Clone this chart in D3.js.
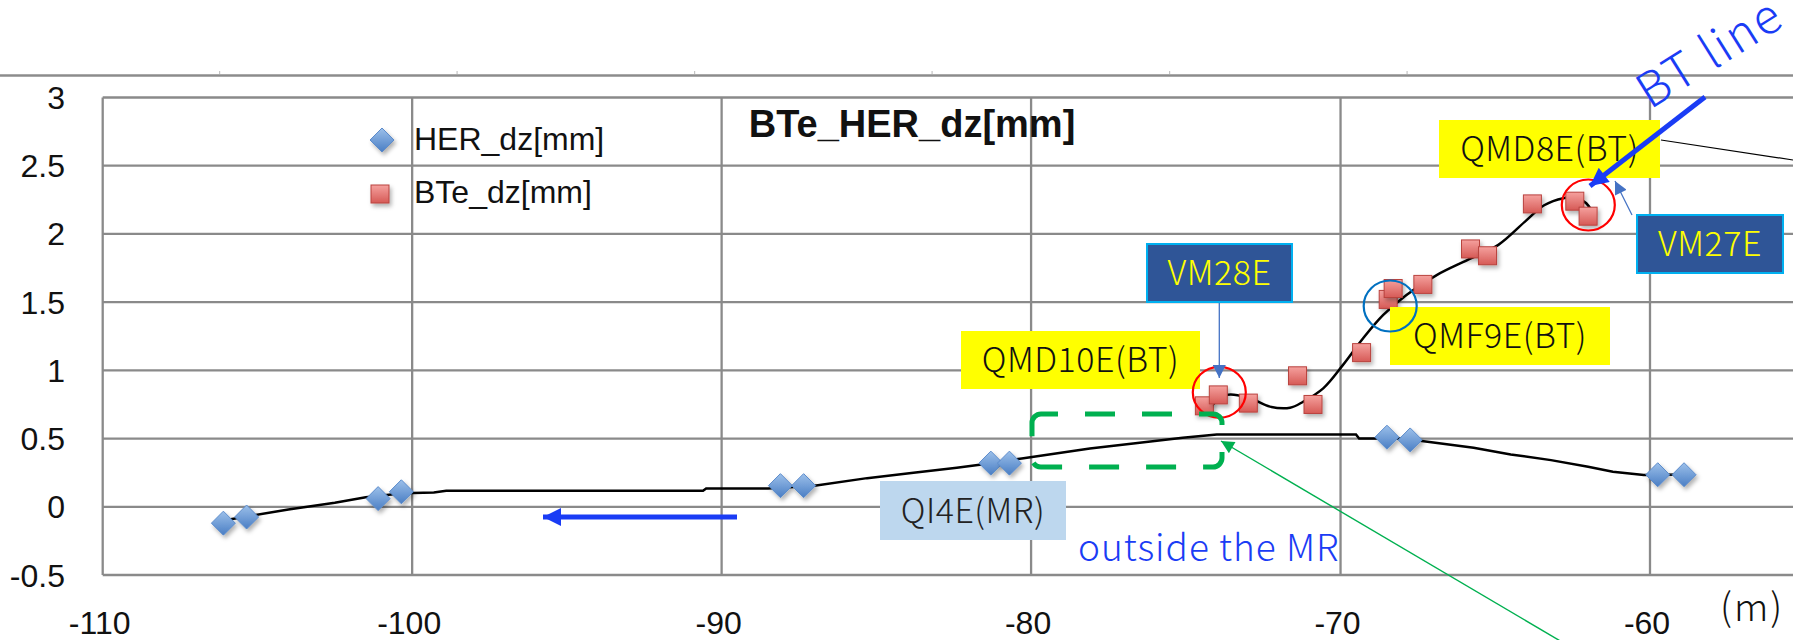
<!DOCTYPE html>
<html>
<head>
<meta charset="utf-8">
<script src="https://cdn.jsdelivr.net/npm/d3@7"></script>
<style>
  body { margin: 0; background: #fff; }
  svg { display: block; }
  .axisLbl { font-family: "Liberation Sans", Arial, sans-serif; font-size: 32px; fill: #111; }
  .note { font-family: "Noto Sans CJK JP", "Noto Sans", sans-serif; font-weight: 300; }
</style>
</head>
<body>
<script>
//chart values
var herX = [-106.1, -105.35, -101.1, -100.35, -88.1, -87.35, -81.3, -80.7, -68.5, -67.75, -59.75, -58.9];
var herY = [-0.12, -0.075, 0.06, 0.11, 0.155, 0.155, 0.32, 0.32, 0.51, 0.49, 0.235, 0.235];

var bteX = [-74.4, -73.95, -72.98, -71.39, -70.89, -69.32, -68.46, -68.3, -67.34, -65.8, -65.25, -63.8, -62.43, -62.0];
var bteY = [0.74, 0.82, 0.76, 0.96, 0.75, 1.13, 1.52, 1.60, 1.63, 1.89, 1.84, 2.22, 2.24, 2.13];

//stepped fit line through the HER points
var herLineX = [-106.1, -105.3, -104, -102.5, -101.5, -100.3, -99.3, -98.9, -90.6, -90.5, -88.5, -87, -85.3, -83.8, -82.4, -81.6, -80.3, -78.1, -76.7, -75.1, -74.0, -69.5, -69.4, -68, -67, -65.7, -64.5, -63.2, -62.0, -61.2, -60.2, -58.9];
var herLineY = [-0.10, -0.07, -0.02, 0.03, 0.07, 0.10, 0.105, 0.117, 0.117, 0.134, 0.134, 0.155, 0.21, 0.25, 0.286, 0.31, 0.354, 0.428, 0.464, 0.506, 0.53, 0.53, 0.50, 0.50, 0.472, 0.433, 0.384, 0.342, 0.293, 0.257, 0.233, 0.237];

//BT line fit
var btLineX = [-74.33, -73.68, -72.93, -72.28, -71.63, -71.21, -70.56, -69.92, -69.27, -68.62, -67.87, -66.88, -65.89, -64.9, -64.04, -63.42, -62.8, -62.37, -62.06, -61.75];
var btLineY = [0.70, 0.82, 0.795, 0.734, 0.726, 0.77, 0.868, 1.04, 1.235, 1.406, 1.553, 1.70, 1.81, 1.92, 2.09, 2.21, 2.262, 2.267, 2.225, 2.115];

var xTicks = [-110, -100, -90, -80, -70, -60];
var yTicks = [-0.5, 0, 0.5, 1, 1.5, 2, 2.5, 3];
var yTickLabels = ["-0.5", "0", "0.5", "1", "1.5", "2", "2.5", "3"];

var seriesNames = ["HER_dz[mm]", "BTe_dz[mm]"];
var chartTitle = "BTe_HER_dz[mm]";

window.onload = drawChart;

function drawChart(){
    var width = 1793,
        height = 640;

    var svg = d3.select("body")
        .append("svg")
        .attr("width", width)
        .attr("height", height);

    var defs = svg.append("defs");

    //soft shadow under the markers
    var shadow = defs.append("filter")
        .attr("id", "shadow")
        .attr("x", "-50%").attr("y", "-50%")
        .attr("width", "200%").attr("height", "200%");
    shadow.append("feDropShadow")
        .attr("dx", 2).attr("dy", 3)
        .attr("stdDeviation", 2)
        .attr("flood-color", "#000")
        .attr("flood-opacity", 0.3);

    var gBlue = defs.append("linearGradient").attr("id", "gBlue")
        .attr("x1", 0).attr("y1", 0).attr("x2", 0).attr("y2", 1);
    gBlue.append("stop").attr("offset", "0%").attr("stop-color", "#9cc0ea");
    gBlue.append("stop").attr("offset", "100%").attr("stop-color", "#4a7ec4");

    var gRed = defs.append("linearGradient").attr("id", "gRed")
        .attr("x1", 0).attr("y1", 0).attr("x2", 0).attr("y2", 1);
    gRed.append("stop").attr("offset", "0%").attr("stop-color", "#f5a19e");
    gRed.append("stop").attr("offset", "100%").attr("stop-color", "#d65a56");

    //arrow heads
    function marker(id, color, w, h){
        defs.append("marker")
            .attr("id", id)
            .attr("viewBox", "0 0 10 10")
            .attr("refX", 10).attr("refY", 5)
            .attr("markerUnits", "userSpaceOnUse")
            .attr("markerWidth", w).attr("markerHeight", h)
            .attr("orient", "auto")
            .append("path")
            .attr("d", "M0,0 L10,5 L0,10 Z")
            .attr("fill", color);
    }
    marker("arBlueThin", "#4472c4", 15, 13);
    marker("arGreen", "#00b050", 15, 13);
    marker("arBlueBig", "#1a3cf5", 24, 18);
    marker("arBlueLeft", "#1a3cf5", 18, 18);

    //scales
    var x = d3.scaleLinear().domain([-110, -60]).range([102.7, 1650]);
    var y = d3.scaleLinear().domain([-0.5, 3]).range([575, 97.5]);

    //ruler line above the plot
    svg.append("line")
        .attr("x1", 0).attr("x2", width)
        .attr("y1", 75.5).attr("y2", 75.5)
        .attr("stroke", "#8c8c8c")
        .attr("stroke-width", 2.5);
    svg.selectAll(".rulerTick")
        .data([219.6, 457.1, 694.6, 932.1, 1169.6, 1407.1])
        .enter()
        .append("line")
        .attr("class", "rulerTick")
        .attr("x1", function(d){ return d; })
        .attr("x2", function(d){ return d; })
        .attr("y1", 71).attr("y2", 74)
        .attr("stroke", "#c4c4c4")
        .attr("stroke-width", 1.2);

    //gridlines
    svg.selectAll(".hGrid")
        .data(yTicks)
        .enter()
        .append("line")
        .attr("class", "hGrid")
        .attr("x1", x(-110)).attr("x2", width)
        .attr("y1", function(d){ return y(d); })
        .attr("y2", function(d){ return y(d); })
        .attr("stroke", "#8a8a8a")
        .attr("stroke-width", 2.3);

    svg.selectAll(".vGrid")
        .data(xTicks)
        .enter()
        .append("line")
        .attr("class", "vGrid")
        .attr("x1", function(d){ return x(d); })
        .attr("x2", function(d){ return x(d); })
        .attr("y1", y(3)).attr("y2", y(-0.5))
        .attr("stroke", "#8a8a8a")
        .attr("stroke-width", 2.3);

    //tick labels
    svg.selectAll(".yLbl")
        .data(yTicks)
        .enter()
        .append("text")
        .attr("class", "axisLbl")
        .attr("x", 65)
        .attr("y", function(d){ return y(d); })
        .attr("dy", "0.36em")
        .attr("text-anchor", "end")
        .text(function(d, i){ return yTickLabels[i]; });

    svg.selectAll(".xLbl")
        .data(xTicks)
        .enter()
        .append("text")
        .attr("class", "axisLbl")
        .attr("x", function(d){ return x(d) - 3; })
        .attr("y", 634)
        .attr("text-anchor", "middle")
        .text(function(d){ return d; });

    svg.append("text")
        .attr("class", "note")
        .attr("x", 1720).attr("y", 621)
        .attr("font-size", 38)
        .attr("letter-spacing", 2)
        .attr("fill", "#111")
        .text("(m)");

    //title
    svg.append("text")
        .attr("x", 912).attr("y", 137)
        .attr("text-anchor", "middle")
        .attr("font-family", "Liberation Sans, Arial, sans-serif")
        .attr("font-weight", "bold")
        .attr("font-size", 38)
        .attr("fill", "#111")
        .text(chartTitle);

    //fit lines
    var line = d3.line()
        .x(function(d){ return x(d[0]); })
        .y(function(d){ return y(d[1]); });

    svg.append("path")
        .datum(d3.zip(herLineX, herLineY))
        .attr("d", line)
        .attr("fill", "none")
        .attr("stroke", "#000")
        .attr("stroke-width", 2.5);

    svg.append("path")
        .datum(d3.zip(btLineX, btLineY))
        .attr("d", line.curve(d3.curveCatmullRom))
        .attr("fill", "none")
        .attr("stroke", "#000")
        .attr("stroke-width", 2.5);

    //markers
    var diamond = "M0,-12 L12,0 L0,12 L-12,0 Z";

    svg.selectAll(".her")
        .data(d3.zip(herX, herY))
        .enter()
        .append("path")
        .attr("class", "her")
        .attr("d", diamond)
        .attr("transform", function(d){ return "translate(" + x(d[0]) + "," + y(d[1]) + ")"; })
        .attr("fill", "url(#gBlue)")
        .attr("stroke", "#5b8bcb")
        .attr("stroke-width", 1)
        .attr("filter", "url(#shadow)");

    svg.selectAll(".bte")
        .data(d3.zip(bteX, bteY))
        .enter()
        .append("rect")
        .attr("class", "bte")
        .attr("x", function(d){ return x(d[0]) - 9; })
        .attr("y", function(d){ return y(d[1]) - 9; })
        .attr("width", 18).attr("height", 18)
        .attr("fill", "url(#gRed)")
        .attr("stroke", "#b9423e")
        .attr("stroke-width", 1)
        .attr("filter", "url(#shadow)");

    //legend
    var legend = svg.append("g");
    legend.append("path")
        .attr("d", diamond)
        .attr("transform", "translate(382,140)")
        .attr("fill", "url(#gBlue)")
        .attr("stroke", "#5b8bcb")
        .attr("filter", "url(#shadow)");
    legend.append("rect")
        .attr("x", 371).attr("y", 185)
        .attr("width", 18).attr("height", 18)
        .attr("fill", "url(#gRed)")
        .attr("stroke", "#b9423e")
        .attr("filter", "url(#shadow)");
    legend.selectAll("text")
        .data(seriesNames)
        .enter()
        .append("text")
        .attr("x", 414)
        .attr("y", function(d, i){ return 150 + i * 53; })
        .attr("font-family", "Liberation Sans, Arial, sans-serif")
        .attr("font-size", 32)
        .attr("fill", "#111")
        .text(function(d){ return d; });

    //callout boxes
    var boxes = [
        {t: "QMD8E(BT)", x0: 1439, y0: 120, x1: 1660, y1: 178, fill: "#ffff00", stroke: "none", color: "#111"},
        {t: "QMF9E(BT)", x0: 1390, y0: 307, x1: 1610, y1: 365, fill: "#ffff00", stroke: "none", color: "#111"},
        {t: "QMD10E(BT)", x0: 961, y0: 331, x1: 1200, y1: 389, fill: "#ffff00", stroke: "none", color: "#111"},
        {t: "VM27E", x0: 1637, y0: 215, x1: 1783, y1: 273, fill: "#2f5597", stroke: "#00b0f0", color: "#ffff00"},
        {t: "VM28E", x0: 1147, y0: 244, x1: 1292, y1: 302, fill: "#2f5597", stroke: "#00b0f0", color: "#ffff00"},
        {t: "QI4E(MR)", x0: 880, y0: 481, x1: 1066, y1: 540, fill: "#bdd7ee", stroke: "none", color: "#222"}
    ];

    var box = svg.selectAll(".box")
        .data(boxes)
        .enter()
        .append("g")
        .attr("class", "box");
    box.append("rect")
        .attr("x", function(d){ return d.x0; })
        .attr("y", function(d){ return d.y0; })
        .attr("width", function(d){ return d.x1 - d.x0; })
        .attr("height", function(d){ return d.y1 - d.y0; })
        .attr("fill", function(d){ return d.fill; })
        .attr("stroke", function(d){ return d.stroke; })
        .attr("stroke-width", 2);
    box.append("text")
        .attr("class", "note")
        .attr("x", function(d){ return (d.x0 + d.x1) / 2; })
        .attr("y", function(d){ return (d.y0 + d.y1) / 2 + 12; })
        .attr("text-anchor", "middle")
        .attr("font-size", 34)
        .attr("letter-spacing", 0.5)
        .attr("fill", function(d){ return d.color; })
        .text(function(d){ return d.t; });

    //circles round the points
    var rings = [
        {cx: 1219.3, cy: 392.3, color: "#ff0000"},
        {cx: 1588.3, cy: 205, color: "#ff0000"},
        {cx: 1390.2, cy: 306, color: "#0070c0"}
    ];
    svg.selectAll(".ring")
        .data(rings)
        .enter()
        .append("ellipse")
        .attr("class", "ring")
        .attr("cx", function(d){ return d.cx; })
        .attr("cy", function(d){ return d.cy; })
        .attr("rx", 26.5).attr("ry", 25.5)
        .attr("fill", "none")
        .attr("stroke", function(d){ return d.color; })
        .attr("stroke-width", 2.2);

    //green dashed frame round QI4E
    svg.append("rect")
        .attr("x", 1032).attr("y", 414)
        .attr("width", 190).attr("height", 53)
        .attr("rx", 9)
        .attr("fill", "none")
        .attr("stroke", "#00b050")
        .attr("stroke-width", 5)
        .attr("stroke-dasharray", "30 27")
        .attr("stroke-dashoffset", 13);

    //arrows
    var arrows = [
        {x1: 1219.3, y1: 303, x2: 1219.3, y2: 378, color: "#4472c4", w: 1.3, m: "arBlueThin"},
        {x1: 1632, y1: 215, x2: 1615, y2: 181, color: "#4472c4", w: 1.3, m: "arBlueThin"},
        {x1: 1562, y1: 642, x2: 1221, y2: 441, color: "#00b050", w: 1.4, m: "arGreen"},
        {x1: 1705, y1: 97, x2: 1590, y2: 186, color: "#1a3cf5", w: 5, m: "arBlueBig"},
        {x1: 737, y1: 517, x2: 543, y2: 517, color: "#1a3cf5", w: 5, m: "arBlueLeft"}
    ];
    svg.selectAll(".arrow")
        .data(arrows)
        .enter()
        .append("line")
        .attr("class", "arrow")
        .attr("x1", function(d){ return d.x1; })
        .attr("y1", function(d){ return d.y1; })
        .attr("x2", function(d){ return d.x2; })
        .attr("y2", function(d){ return d.y2; })
        .attr("stroke", function(d){ return d.color; })
        .attr("stroke-width", function(d){ return d.w; })
        .attr("marker-end", function(d){ return "url(#" + d.m + ")"; });

    //leader line from QMD8E box
    svg.append("line")
        .attr("x1", 1661).attr("y1", 140)
        .attr("x2", 1793).attr("y2", 160)
        .attr("stroke", "#000")
        .attr("stroke-width", 1.2);

    //blue notes
    svg.append("text")
        .attr("class", "note")
        .attr("x", 1078).attr("y", 561)
        .attr("font-size", 37)
        .attr("letter-spacing", 1)
        .attr("fill", "#1a3cf5")
        .text("outside the MR");

    svg.append("text")
        .attr("class", "note")
        .attr("transform", "translate(1650,110) rotate(-32)")
        .attr("font-size", 48)
        .attr("letter-spacing", 2)
        .attr("fill", "#1a3cf5")
        .text("BT line");
};
</script>
</body>
</html>
